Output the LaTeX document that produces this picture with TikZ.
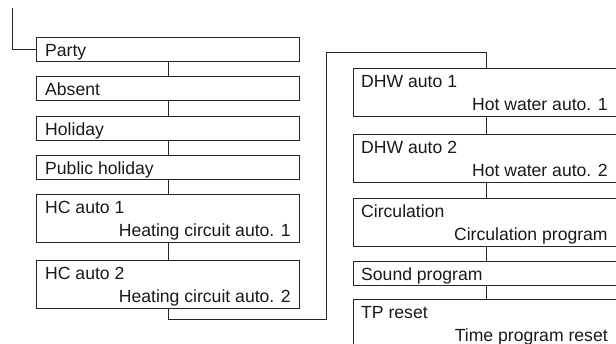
\documentclass[tikz,border=0pt]{standalone}
\usepackage{fontspec}
\setmainfont{Liberation Sans}
\usetikzlibrary{calc}
\begin{document}
\begin{tikzpicture}[x=1pt,y=-1pt,
  box/.style={draw=black!85, line width=0.9pt, rectangle, inner sep=0pt, anchor=north west},
  lbox/.style={box, minimum width=263pt},
  rbox/.style={box, minimum width=266pt},
  one/.style={minimum height=24pt},
  two/.style={minimum height=48pt},
  txt/.style={inner sep=0pt, font=\fontsize{17.6}{20}\selectfont, text=black!90},
  conn/.style={draw=black!85, line width=0.9pt}]
\useasboundingbox (0,0) rectangle (616,343);
\clip (0,0) rectangle (616,343);
% left column
\node[lbox,one] (party) at (36,37) {};
\node[lbox,one] (absent) at (36,76) {};
\node[lbox,one] (holiday) at (36,116) {};
\node[lbox,one] (public) at (36,155) {};
\node[lbox,two] (hc1) at (36,194) {};
\node[lbox,two] (hc2) at (36,260) {};
% right column
\node[rbox,two] (dhw1) at (353,68) {};
\node[rbox,two] (dhw2) at (353,134) {};
\node[rbox,two] (circ) at (353,198) {};
\node[rbox,one] (sound) at (353,261) {};
\node[rbox,two] (tp) at (353,299) {};
% texts
\node[txt,anchor=base west] (partyt) at ($(party.north west)+(9,19)$) {Party};
\node[txt,anchor=base west] (absentt) at ($(absent.north west)+(9,19)$) {Absent};
\node[txt,anchor=base west] (holidayt) at ($(holiday.north west)+(9,19)$) {Holiday};
\node[txt,anchor=base west] (publict) at ($(public.north west)+(9,19)$) {Public holiday};
\node[txt,anchor=base west] (hc1t) at ($(hc1.north west)+(9,19)$) {HC auto 1};
\node[txt,anchor=base east] (hc1s) at ($(hc1.north east)+(-9,42)$) {Heating circuit auto. 1};
\node[txt,anchor=base west] (hc2t) at ($(hc2.north west)+(9,19)$) {HC auto 2};
\node[txt,anchor=base east] (hc2s) at ($(hc2.north east)+(-9,42)$) {Heating circuit auto. 2};
\node[txt,anchor=base west] (dhw1t) at ($(dhw1.north west)+(8,19)$) {DHW auto 1};
\node[txt,anchor=base east] (dhw1s) at ($(dhw1.north east)+(-12,42)$) {Hot water auto. 1};
\node[txt,anchor=base west] (dhw2t) at ($(dhw2.north west)+(8,19)$) {DHW auto 2};
\node[txt,anchor=base east] (dhw2s) at ($(dhw2.north east)+(-12,42)$) {Hot water auto. 2};
\node[txt,anchor=base west] (circt) at ($(circ.north west)+(8,19)$) {Circulation};
\node[txt,anchor=base east] (circs) at ($(circ.north east)+(-12,42)$) {Circulation program};
\node[txt,anchor=base west] (soundt) at ($(sound.north west)+(8,19)$) {Sound program};
\node[txt,anchor=base west] (tpt) at ($(tp.north west)+(8,19)$) {TP reset};
\node[txt,anchor=base east] (tps) at ($(tp.north east)+(-12,42)$) {Time program reset};
% connectors
\coordinate (start) at (12,8);
\coordinate (j1) at (326,319);
\coordinate (j2) at (326,52);
\draw[conn] (start) |- (party.west);
\draw[conn] (party.south) -- (absent.north);
\draw[conn] (absent.south) -- (holiday.north);
\draw[conn] (holiday.south) -- (public.north);
\draw[conn] (public.south) -- (hc1.north);
\draw[conn] (hc1.south) -- (hc2.north);
\draw[conn] (hc2.south) |- (j1) -- (j2) -| (dhw1.north);
\draw[conn] (dhw1.south) -- (dhw2.north);
\draw[conn] (dhw2.south) -- (circ.north);
\draw[conn] (circ.south) -- (sound.north);
\draw[conn] (sound.south) -- (tp.north);
\end{tikzpicture}
\end{document}
